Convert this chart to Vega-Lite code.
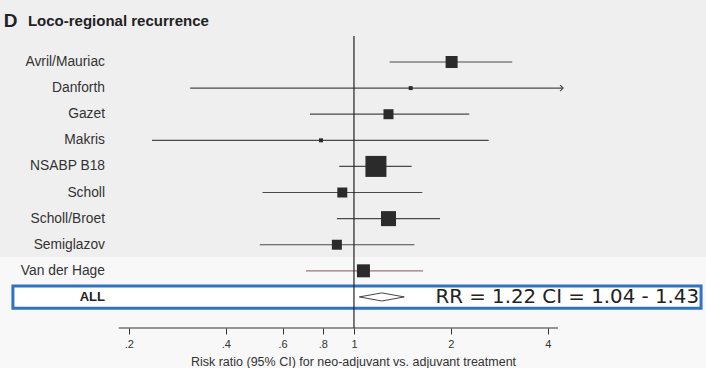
{
  "$schema": "https://vega.github.io/schema/vega-lite/v6.json",
  "width": 706,
  "height": 328,
  "padding": 0,
  "background": "#f8f8f8",
  "view": {"stroke": null},
  "config": {
    "axisX": {"domain": false, "grid": false, "tickSize": 6, "tickColor": "#333", "tickWidth": 1,
      "labelFont": "Liberation Sans", "labelFontSize": 11, "labelColor": "#333", "labelPadding": 4,
      "titleFont": "Liberation Sans", "titleFontSize": 12.5, "titleFontWeight": "normal", "titleColor": "#333", "titlePadding": 6}
  },
  "datasets": {
    "studies": [
      {"study": "Avril/Mauriac", "pos": 1, "est": 2.01, "lo": 1.29, "hi": 3.10, "w": 11.0, "truncated": false},
      {"study": "Danforth", "pos": 2, "est": 1.50, "lo": 0.31, "hi": 4.46, "w": 1.2, "truncated": true},
      {"study": "Gazet", "pos": 3, "est": 1.28, "lo": 0.73, "hi": 2.28, "w": 7.6, "truncated": false},
      {"study": "Makris", "pos": 4, "est": 0.79, "lo": 0.236, "hi": 2.62, "w": 1.2, "truncated": false},
      {"study": "NSABP B18", "pos": 5, "est": 1.17, "lo": 0.90, "hi": 1.51, "w": 33.6, "truncated": false},
      {"study": "Scholl", "pos": 6, "est": 0.92, "lo": 0.52, "hi": 1.63, "w": 7.6, "truncated": false},
      {"study": "Scholl/Broet", "pos": 7, "est": 1.28, "lo": 0.885, "hi": 1.85, "w": 17.2, "truncated": false},
      {"study": "Semiglazov", "pos": 8, "est": 0.885, "lo": 0.51, "hi": 1.54, "w": 7.6, "truncated": false},
      {"study": "Van der Hage", "pos": 9, "est": 1.07, "lo": 0.71, "hi": 1.64, "w": 12.9, "truncated": false}
    ],
    "pooled": [
      {"study": "ALL", "pos": 10, "est": 1.22, "lo": 1.04, "hi": 1.43, "text": "RR = 1.22 CI = 1.04 - 1.43"}
    ]
  },
  "layer": [
    {
      "data": {"values": [{}]},
      "mark": {"type": "rect", "fill": "#efefef"},
      "encoding": {
        "x": {"datum": 0.0796, "type": "quantitative",
          "scale": {"type": "log", "domain": [0.0796, 12.39], "nice": false, "zero": false},
          "title": "Risk ratio (95% CI) for neo-adjuvant vs. adjuvant treatment",
          "axis": {"values": [0.2, 0.4, 0.6, 0.8, 1, 2, 4],
            "labelExpr": "datum.value < 1 ? '.' + format(datum.value * 10, 'd') : format(datum.value, 'd')"}},
        "x2": {"datum": 12.39},
        "y": {"datum": -1.375, "type": "quantitative",
          "scale": {"domain": [-1.375, 11.19], "reverse": true, "nice": false, "zero": false},
          "axis": null},
        "y2": {"datum": 8.47}
      }
    },
    {
      "data": {"values": [{}]},
      "mark": {"type": "rect", "fill": "white", "stroke": "#2f73c2", "strokeWidth": 3},
      "encoding": {
        "x": {"datum": 0.0873, "type": "quantitative"},
        "x2": {"datum": 11.96},
        "y": {"datum": 9.58, "type": "quantitative", "axis": null},
        "y2": {"datum": 10.43}
      }
    },
    {
      "data": {"name": "studies"},
      "mark": {"type": "rule", "strokeWidth": 1.2},
      "encoding": {
        "x": {"field": "lo", "type": "quantitative", "title": "Risk ratio (95% CI) for neo-adjuvant vs. adjuvant treatment"},
        "x2": {"field": "hi"},
        "y": {"field": "pos", "type": "quantitative", "axis": null},
        "color": {"condition": {"test": "datum.study === 'Van der Hage'", "value": "#9a7479"}, "value": "#4a4a4a"}
      }
    },
    {
      "data": {"values": [{}]},
      "mark": {"type": "rule", "color": "#222", "strokeWidth": 1.2},
      "encoding": {
        "x": {"datum": 1, "type": "quantitative"},
        "y": {"datum": 0.0, "type": "quantitative", "axis": null},
        "y2": {"datum": 11.19}
      }
    },
    {
      "data": {"values": [{}]},
      "mark": {"type": "rule", "color": "#333", "strokeWidth": 1.2},
      "encoding": {
        "x": {"datum": 0.186, "type": "quantitative"},
        "x2": {"datum": 4.30},
        "y": {"datum": 11.19, "type": "quantitative", "axis": null}
      }
    },
    {
      "data": {"name": "studies"},
      "transform": [{"filter": "datum.truncated"}],
      "mark": {"type": "point", "shape": "M-1,-1L0,0L-1,1", "filled": false, "stroke": "#4a4a4a", "strokeWidth": 1.2, "size": 36, "opacity": 1},
      "encoding": {
        "x": {"field": "hi", "type": "quantitative", "title": "Risk ratio (95% CI) for neo-adjuvant vs. adjuvant treatment"},
        "y": {"field": "pos", "type": "quantitative", "axis": null}
      }
    },
    {
      "data": {"name": "studies"},
      "mark": {"type": "square", "color": "#2b2b2b", "opacity": 1},
      "encoding": {
        "x": {"field": "est", "type": "quantitative", "title": "Risk ratio (95% CI) for neo-adjuvant vs. adjuvant treatment"},
        "y": {"field": "pos", "type": "quantitative", "axis": null},
        "size": {"field": "w", "type": "quantitative", "scale": {"domain": [0, 33.6], "range": [0, 441]}, "legend": null}
      }
    },
    {
      "data": {"name": "pooled"},
      "mark": {"type": "point", "shape": "M-1,0L0,-0.18L1,0L0,0.18Z", "filled": true, "fill": "white", "stroke": "#444", "strokeWidth": 1, "size": 2025, "opacity": 1},
      "encoding": {
        "x": {"field": "est", "type": "quantitative", "title": "Risk ratio (95% CI) for neo-adjuvant vs. adjuvant treatment"},
        "y": {"field": "pos", "type": "quantitative", "axis": null}
      }
    },
    {
      "data": {"name": "studies"},
      "mark": {"type": "text", "align": "right", "baseline": "middle", "font": "Liberation Sans", "fontSize": 13.8, "color": "#333"},
      "encoding": {
        "x": {"datum": 0.1686, "type": "quantitative"},
        "y": {"field": "pos", "type": "quantitative", "axis": null},
        "text": {"field": "study"}
      }
    },
    {
      "data": {"name": "pooled"},
      "mark": {"type": "text", "align": "right", "baseline": "middle", "font": "Liberation Sans", "fontSize": 13, "fontWeight": "bold", "color": "#222"},
      "encoding": {
        "x": {"datum": 0.1686, "type": "quantitative"},
        "y": {"field": "pos", "type": "quantitative", "axis": null},
        "text": {"field": "study"}
      }
    },
    {
      "data": {"name": "pooled"},
      "mark": {"type": "text", "align": "left", "baseline": "middle", "font": "DejaVu Sans", "fontSize": 19.8, "color": "#222"},
      "encoding": {
        "x": {"datum": 1.79, "type": "quantitative"},
        "y": {"field": "pos", "type": "quantitative", "axis": null},
        "text": {"field": "text"}
      }
    },
    {
      "data": {"values": [{"t": "D"}]},
      "mark": {"type": "text", "align": "left", "baseline": "middle", "font": "Liberation Sans", "fontSize": 19, "fontWeight": "bold", "color": "#222"},
      "encoding": {
        "x": {"datum": 0.0818, "type": "quantitative"},
        "y": {"datum": -0.58, "type": "quantitative", "axis": null},
        "text": {"field": "t"}
      }
    },
    {
      "data": {"values": [{"t": "Loco-regional recurrence"}]},
      "mark": {"type": "text", "align": "left", "baseline": "middle", "font": "Liberation Sans", "fontSize": 15, "fontWeight": "bold", "color": "#222"},
      "encoding": {
        "x": {"datum": 0.0972, "type": "quantitative"},
        "y": {"datum": -0.58, "type": "quantitative", "axis": null},
        "text": {"field": "t"}
      }
    }
  ]
}
